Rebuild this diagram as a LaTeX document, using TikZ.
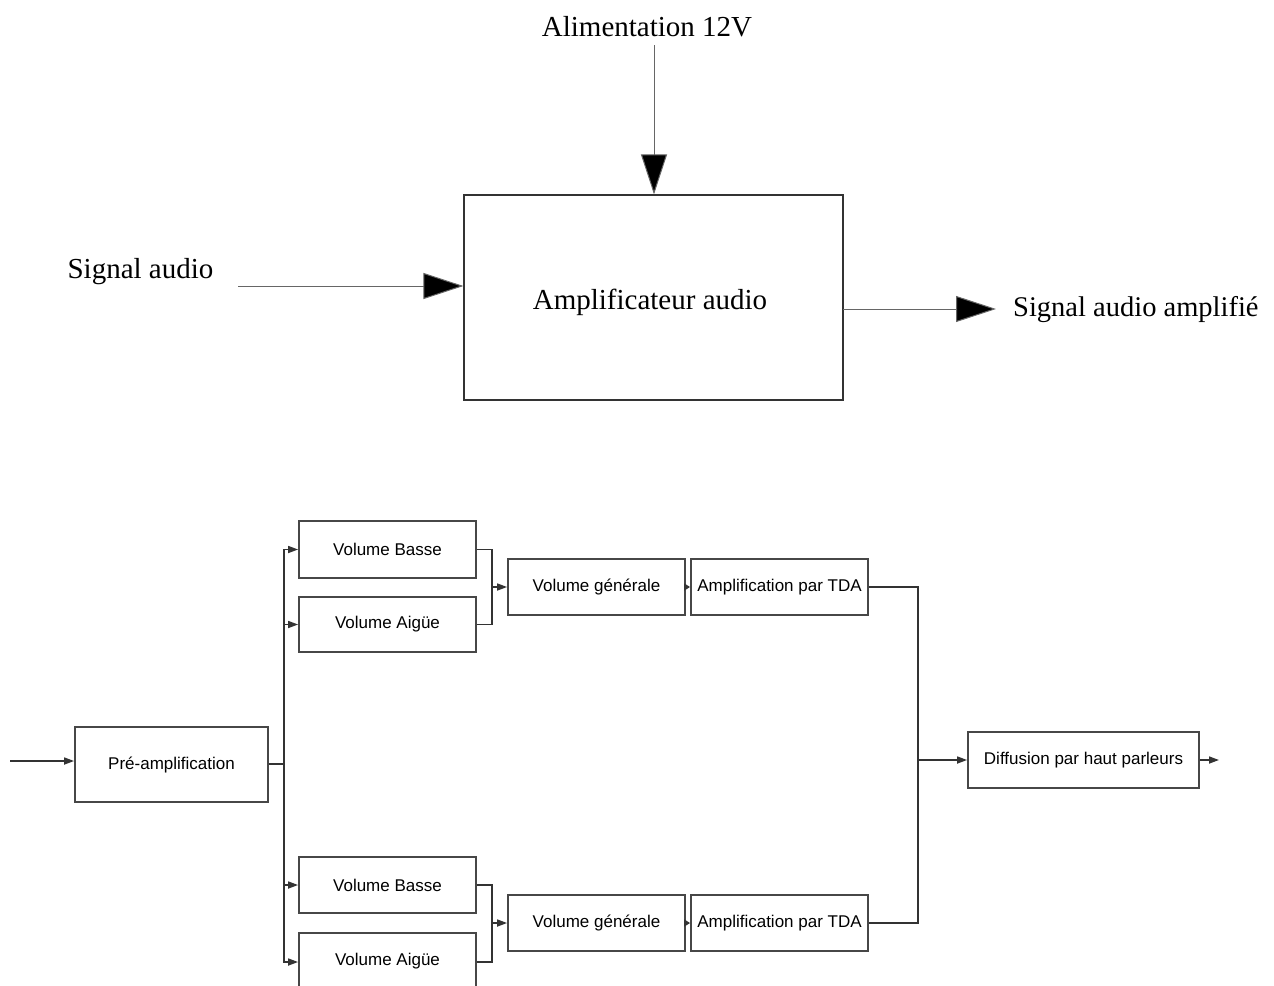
\documentclass[tikz,border=0pt]{standalone}
\usepackage{fontspec}
\setmainfont{Liberation Serif}
\newfontfamily\arialf{Liberation Sans}
\usetikzlibrary{arrows.meta}
\begin{document}
\begin{tikzpicture}[x=1pt,y=-1pt,
  bigtxt/.style={font=\fontsize{29}{34}\selectfont, inner sep=0pt},
  bigarrow/.style={draw=black!60, line width=1pt, -{Triangle[length=40pt,width=26pt,fill=black]}},
  mainbox/.style={draw=black!80, line width=1.2pt, minimum width=379pt, minimum height=205pt, inner sep=0pt},
  blk/.style={draw=black!72, line width=1.8pt, minimum width=177pt, minimum height=56pt, inner sep=0pt,
    font=\arialf\fontsize{17}{20}\selectfont},
  wire/.style={draw=black!80, line width=1.6pt},
  warrow/.style={wire, -{Triangle[length=10pt,width=7pt]}}
  ]
\useasboundingbox (0,0) rectangle (1274,985);
\clip (0,0) rectangle (1274,985);
% ---- top diagram ----
\node[mainbox] (amp) at (653.5,297.5) {};
\node[bigtxt] (amptxt) at (650,302) {Amplificateur audio};
\node[bigtxt] (alim) at (647,27) {Alimentation 12V};
\node[bigtxt] (sig) at (140.5,272) {Signal audio};
\node[bigtxt, anchor=west, font=\fontsize{28.5}{34}\selectfont] (sout) at (1013,310) {Signal audio amplifié};
\coordinate (p1) at (654,45);
\coordinate (i1) at (238,286);
\coordinate (o1) at (843,309);
\coordinate (o2) at (996,309);
\draw[bigarrow] (p1) -- (p1 |- amp.north);
\draw[bigarrow] (i1) -- (i1 -| amp.west);
\draw[bigarrow] (o1) -- (o2);
% ---- bottom diagram ----
\node[blk, minimum width=193pt, minimum height=75pt] (pre) at (171.5,764.5) {Pré-amplification};
\node[blk, minimum height=57pt] (vb1) at (387.5,549.5) {Volume Basse};
\node[blk, minimum height=55pt] (va1) at (387.5,624.5) {Volume Aigüe};
\node[blk] (vg1) at (596.5,587) {Volume générale};
\node[blk] (tda1) at (779.5,587) {Amplification par TDA};
\node[blk] (vb2) at (387.5,885) {Volume Basse};
\node[blk] (va2) at (387.5,961) {Volume Aigüe};
\node[blk] (vg2) at (596.5,923) {Volume générale};
\node[blk] (tda2) at (779.5,923) {Amplification par TDA};
\node[blk, minimum width=231pt] (diff) at (1083.5,760) {Diffusion par haut parleurs};
\coordinate (inp) at (10,761);
\coordinate (bus) at (284,764);
\coordinate (m1) at (492,587);
\coordinate (m2) at (492,923);
\coordinate (j) at (918,760);
\coordinate (outp) at (1219,760);
\draw[warrow] (inp) -- (inp -| pre.west);
\draw[wire] (pre.east |- bus) -- (bus);
\draw[warrow] (bus) |- (vb1.west);
\draw[warrow] (bus) |- (va1.west);
\draw[warrow] (bus) |- (vb2.west);
\draw[warrow] (bus) |- ([yshift=-1pt]va2.west);
\draw[wire] (vb1.east) -| (m1);
\draw[wire] (va1.east) -| (m1);
\draw[warrow] (m1) -- (vg1.west);
\draw[wire] (vb2.east) -| (m2);
\draw[wire] ([yshift=-1pt]va2.east) -| (m2);
\draw[warrow] (m2) -- (vg2.west);
\draw[wire, -{Triangle[length=6pt,width=7pt]}] (vg1.east) -- (tda1.west);
\draw[wire, -{Triangle[length=6pt,width=7pt]}] (vg2.east) -- (tda2.west);
\draw[wire] (tda1.east) -| (j);
\draw[wire] (tda2.east) -| (j);
\draw[warrow] (j) -- (diff.west);
\draw[warrow] (diff.east) -- (outp);
\end{tikzpicture}
\end{document}
